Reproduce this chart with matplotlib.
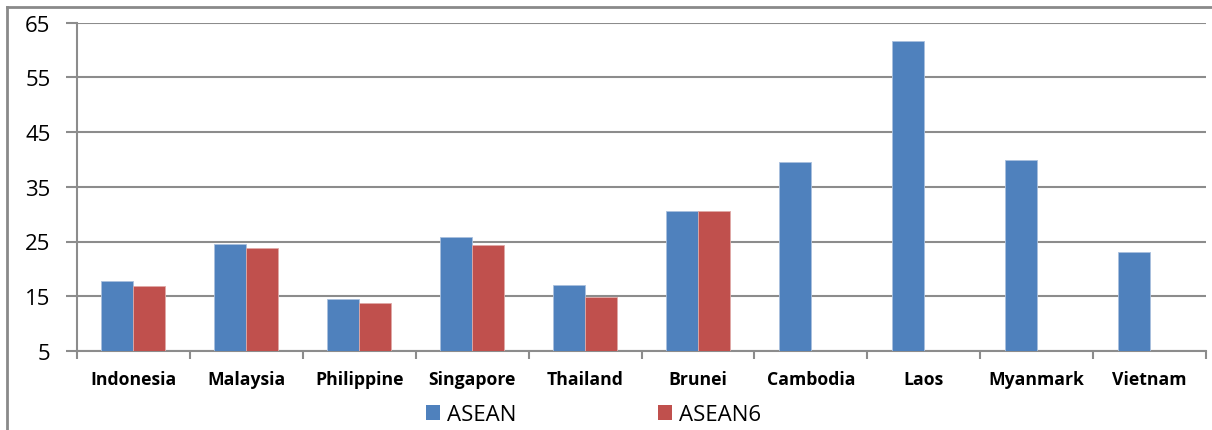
import matplotlib
matplotlib.use("Agg")
import matplotlib.pyplot as plt
from matplotlib.lines import Line2D
from matplotlib.patches import Patch
import numpy as np

countries = ["Indonesia", "Malaysia", "Philippine", "Singapore", "Thailand",
             "Brunei", "Cambodia", "Laos", "Myanmark", "Vietnam"]
asean = [17.7, 24.6, 14.5, 25.8, 17.0, 30.6, 39.6, 61.6, 39.8, 23.0]
asean6 = [16.9, 23.8, 13.8, 24.4, 14.9, 30.6, None, None, None, None]
yticks = [5, 15, 25, 35, 45, 55, 65]

BLUE = "#4F81BD"
RED = "#C0504D"
GRID = "#8C8C8C"

plt.rcParams["font.family"] = ["Open Sans", "DejaVu Sans"]

fig = plt.figure(figsize=(12.12, 4.31), dpi=100)
ax = fig.add_axes([77 / 1212, 1 - 352 / 431, (1206 - 77) / 1212, (352 - 23.5) / 431])

x = np.arange(len(countries))
w = 0.283
ax.bar(x - w / 2, asean, width=w, color=BLUE, edgecolor="#A9C0DE", linewidth=0.6,
       zorder=3, label="ASEAN")
x6 = [xi for xi, v in zip(x, asean6) if v is not None]
v6 = [v for v in asean6 if v is not None]
ax.bar(np.array(x6) + w / 2, v6, width=w, color=RED, edgecolor="#DFA9A7", linewidth=0.6,
       zorder=3, label="ASEAN6")

ax.set_xlim(-0.5, len(countries) - 0.5)
ax.set_ylim(5, 65)
ax.set_yticks(yticks)
ax.set_yticklabels([str(t) for t in yticks], fontsize=16)
ax.yaxis.grid(True, color=GRID, linewidth=1.5, zorder=0)
ax.set_axisbelow(True)

# category labels centred, tick marks on category boundaries
ax.set_xticks(x)
ax.set_xticklabels(countries, fontsize=12.7, fontweight="bold")
ax.tick_params(axis="x", which="major", length=0, pad=14)
ax.set_xticks(np.arange(-0.5, len(countries)), minor=True)
ax.tick_params(axis="x", which="minor", length=6, width=1.5, color=GRID)
ax.tick_params(axis="y", length=8, width=1.5, color=GRID, pad=11)

for s in ["top", "right"]:
    ax.spines[s].set_visible(False)
for s in ["left", "bottom"]:
    ax.spines[s].set_color(GRID)
    ax.spines[s].set_linewidth(1.5)

handles = [Patch(facecolor=BLUE, edgecolor="none"), Patch(facecolor=RED, edgecolor="none")]
fig.legend(handles, ["ASEAN", "ASEAN6"], loc="center left",
           bbox_to_anchor=(426 / 1212, 1 - 416 / 431), ncol=2, frameon=False,
           fontsize=16, handlelength=0.62, handleheight=0.62, handletextpad=0.32,
           columnspacing=6.4, borderpad=0, borderaxespad=0)

# outer chart border
fig.add_artist(Line2D([7 / 1212, 7 / 1212], [0, 1 - 8 / 431], transform=fig.transFigure,
                      color="#8A8A8A", linewidth=2))
fig.add_artist(Line2D([7 / 1212, 1], [1 - 8 / 431, 1 - 8 / 431], transform=fig.transFigure,
                      color="#8A8A8A", linewidth=2))

fig.savefig("out.png", dpi=100)
